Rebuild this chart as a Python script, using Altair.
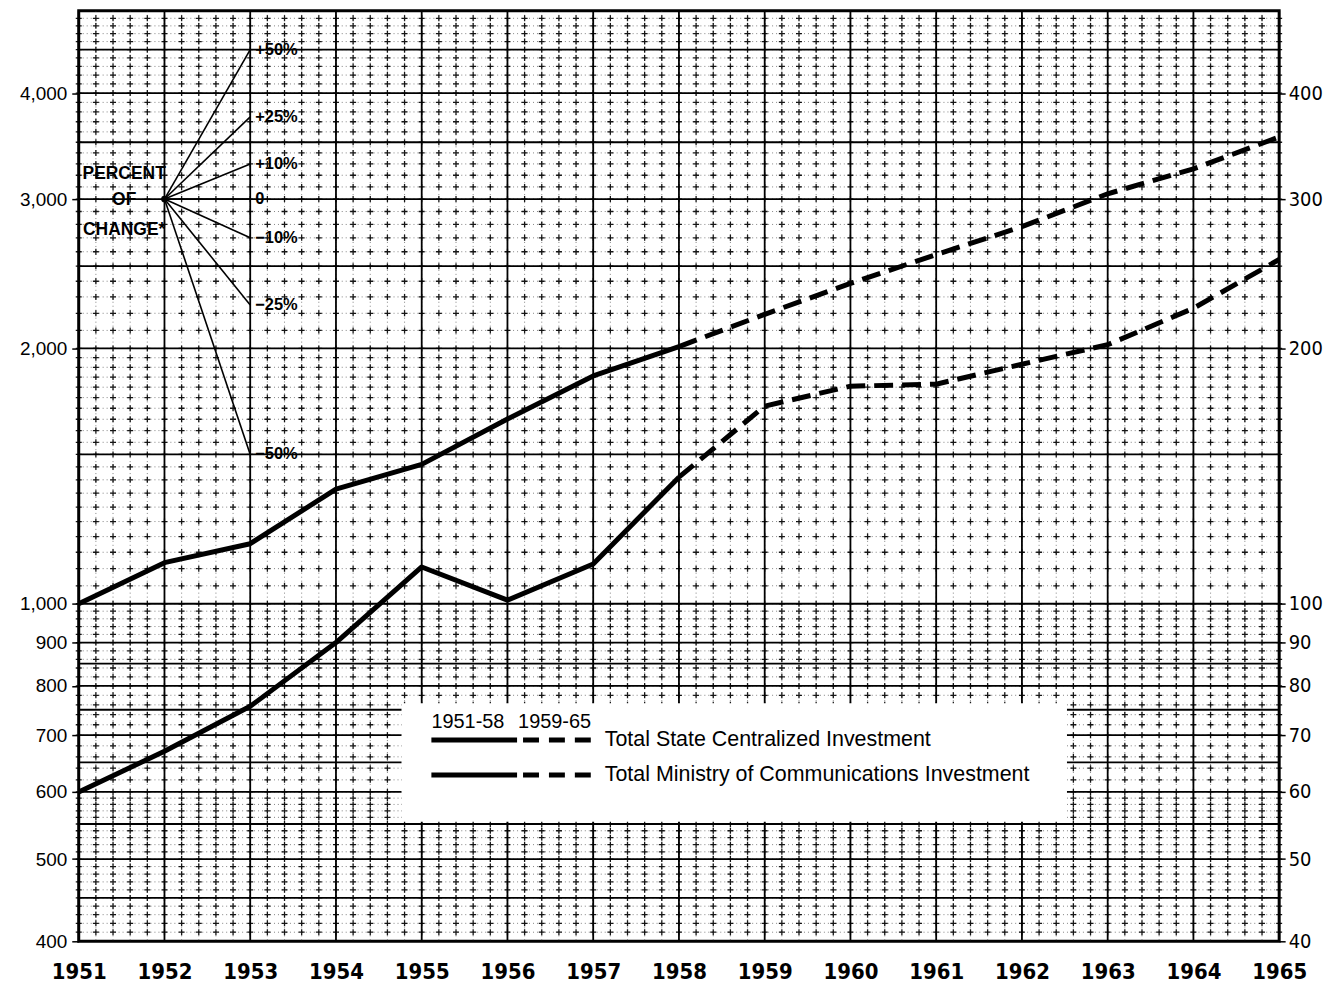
import itertools
import altair as alt
import pandas as pd

# ---------------- data ----------------
years = [1951, 1952, 1953, 1954, 1955, 1956, 1957, 1958,
         1959, 1960, 1961, 1962, 1963, 1964, 1965]
# left scale: Total State Centralized Investment
state_investment = [1000, 1118, 1177, 1365, 1460, 1651, 1856, 2010,
                    2194, 2386, 2580, 2783, 3043, 3256, 3551]
# right scale: Total Ministry of Communications Investment
ministry_investment = [60, 67, 75.7, 90, 110.5, 101, 111.4, 141,
                       171, 180.5, 181.5, 191.6, 202, 223, 254.6]
split_year = 1958  # solid 1951-58, dashed 1959-65

left_tick_values = [400, 500, 600, 700, 800, 900, 1000, 2000, 3000, 4000]
right_tick_values = [40, 50, 60, 70, 80, 90, 100, 200, 300, 400]

fan_labels = ["+50%", "+25%", "+10%", "0", "\u221210%", "\u221225%", "\u221250%"]
fan_changes = [0.50, 0.25, 0.10, 0.0, -0.10, -0.25, -0.50]
fan_origin_year = 1952
fan_origin_value = 3000
fan_end_year = 1953

percent_words = ["PERCENT", "OF", "CHANGE*"]
percent_word_values = [3212, 2990, 2761]
percent_word_year = 1951.53

legend_header = ["1951-58", "1959-65"]
legend_names = ["Total State Centralized Investment",
                "Total Ministry of Communications Investment"]

# graph-paper grid (semi-log paper)
grid_major_y = [450, 500, 550, 600, 650, 700, 750, 800, 850, 900, 1000,
                1500, 2000, 2500, 3000, 3500, 4000, 4500]
grid_minor_y = (list(range(410, 600, 10)) + list(range(600, 1000, 20))
                + list(range(1000, 2000, 50)) + list(range(2000, 5000, 100)))
grid_minor_x = [y + k / 5 for y in years[:-1] for k in (0, 1, 2, 3, 4)] + [years[-1]]

# ---------------- chart ----------------
W, H = 1205, 934
FONT = "Liberation Sans, Arial, Helvetica, sans-serif"
NARROW = "Liberation Sans Narrow, Arial Narrow, DejaVu Sans Condensed, sans-serif"

xs = alt.Scale(domain=[1951, 1965], nice=False, zero=False)
yls = alt.Scale(type="log", domain=[400, 5000], nice=False)
yrs = alt.Scale(type="log", domain=[40, 500], nice=False)

x_axis = alt.Axis(values=years, format="d", title=None, grid=False, domain=False,
                  ticks=False, labelFont=NARROW, labelFontSize=22,
                  labelFontWeight="bold", labelColor="black", labelPadding=20,
                  labelFlush=False, labelOverlap=False)
left_axis = alt.Axis(values=left_tick_values, format=",", title=None, grid=False,
                     orient="left", domain=False, ticks=True, tickSize=7,
                     tickWidth=1.5, tickColor="black", labelFont=FONT,
                     labelFontSize=19, labelColor="black", labelPadding=5,
                     labelOverlap=False, labelFlush=False)
right_axis = alt.Axis(values=right_tick_values, format="d", title=None, grid=False,
                      orient="right", domain=False, ticks=True, tickSize=6,
                      tickWidth=1.5, tickColor="black", labelFont=NARROW,
                      labelFontSize=20, labelColor="black", labelPadding=3,
                      labelOverlap=False, labelFlush=False)


def X(field):
    return alt.X(field, type="quantitative", scale=xs, axis=x_axis)


def YL(field):
    return alt.Y(field, type="quantitative", scale=yls, axis=left_axis)


def YR(field):
    return alt.Y(field, type="quantitative", scale=yrs, axis=right_axis)


df = pd.DataFrame({"year": years, "state": state_investment,
                   "ministry": ministry_investment})

minor_v = alt.Chart(pd.DataFrame({"x": grid_minor_x})).mark_rule(
    color="#333", strokeWidth=1, strokeDash=[1, 3], opacity=0.6
).encode(x=X("x"))

minor_h = alt.Chart(pd.DataFrame({"y": grid_minor_y})).mark_rule(
    color="#333", strokeWidth=1, strokeDash=[1, 3], opacity=0.6
).encode(y=YL("y"))

cross_df = pd.DataFrame(list(itertools.product(grid_minor_x, grid_minor_y)),
                        columns=["x", "y"])
crosses = alt.Chart(cross_df).mark_point(
    shape="M-1,0H1M0,-1V1", size=36, filled=False, color="black",
    strokeWidth=1.3, opacity=0.9
).encode(x=X("x"), y=YL("y"))

major_v = alt.Chart(pd.DataFrame({"x": years})).mark_rule(
    color="black", strokeWidth=1.8
).encode(x=X("x"))

major_h = alt.Chart(pd.DataFrame({"y": grid_major_y})).mark_rule(
    color="black", strokeWidth=1.8
).encode(y=YL("y"))

# percent-of-change fan
fan_rows = []
for lab, ch in zip(fan_labels, fan_changes):
    fan_rows.append({"label": lab, "year": fan_origin_year, "value": fan_origin_value, "end": 0})
    fan_rows.append({"label": lab, "year": fan_end_year,
                     "value": fan_origin_value * (1 + ch), "end": 1})
fan_df = pd.DataFrame(fan_rows)

fan_lines = alt.Chart(fan_df).mark_line(color="black", strokeWidth=1.6).encode(
    x=X("year"), y=YL("value"), detail="label:N")

fan_dot = alt.Chart(pd.DataFrame({"year": [fan_origin_year],
                                  "value": [fan_origin_value]})).mark_circle(
    color="black", size=45, opacity=1
).encode(x=X("year"), y=YL("value"))

fan_text = alt.Chart(fan_df).transform_filter(alt.datum.end == 1).mark_text(
    align="left", baseline="middle", dx=5, fontSize=16.5, fontWeight="bold",
    font=FONT, color="black"
).encode(x=X("year"), y=YL("value"), text="label:N")

pct_text = alt.Chart(pd.DataFrame({"t": percent_words, "v": percent_word_values,
                                   "x": [percent_word_year] * 3})).mark_text(
    align="center", baseline="middle", fontSize=17.5, fontWeight="bold",
    font=FONT, color="black"
).encode(x=X("x"), y=YL("v"), text="t:N")

# data lines (left scale)
state_solid = alt.Chart(df).transform_filter(alt.datum.year <= split_year).mark_line(
    color="black", strokeWidth=5, strokeJoin="round"
).encode(x=X("year"), y=YL("state"))
state_dash = alt.Chart(df).transform_filter(alt.datum.year >= split_year).mark_line(
    color="black", strokeWidth=5, strokeDash=[19, 9]
).encode(x=X("year"), y=YL("state"))

# custom legend box (pixel positions inside the plot area)
leg_box = alt.Chart(pd.DataFrame({"a": [0]})).mark_rect(color="white").encode(
    x=alt.value(324), x2=alt.value(992), y=alt.value(695), y2=alt.value(814))

leg_head1 = alt.Chart(pd.DataFrame({"t": [legend_header[0]]})).mark_text(
    align="left", baseline="middle", font=FONT, fontSize=20, color="black"
).encode(x=alt.value(354), y=alt.value(714), text="t:N")
leg_head2 = alt.Chart(pd.DataFrame({"t": [legend_header[1]]})).mark_text(
    align="left", baseline="middle", font=FONT, fontSize=20, color="black"
).encode(x=alt.value(441), y=alt.value(714), text="t:N")

leg_layers = [leg_box, leg_head1, leg_head2]
for i, (name, yy) in enumerate(zip(legend_names, [732, 767])):
    leg_layers.append(alt.Chart(pd.DataFrame({"a": [i]})).mark_rule(
        color="black", strokeWidth=5).encode(
        x=alt.value(354), x2=alt.value(440), y=alt.value(yy)))
    leg_layers.append(alt.Chart(pd.DataFrame({"a": [i]})).mark_rule(
        color="black", strokeWidth=5, strokeDash=[16, 10]).encode(
        x=alt.value(446), x2=alt.value(516), y=alt.value(yy)))
    leg_layers.append(alt.Chart(pd.DataFrame({"t": [name]})).mark_text(
        align="left", baseline="middle", font=FONT, fontSize=21.5, color="black"
    ).encode(x=alt.value(528), y=alt.value(yy), text="t:N"))

left_group = alt.layer(minor_v, minor_h, crosses, major_v, major_h, fan_lines,
                       fan_dot, fan_text, pct_text, *leg_layers,
                       state_solid, state_dash)

# ministry lines (right scale)
min_solid = alt.Chart(df).transform_filter(alt.datum.year <= split_year).mark_line(
    color="black", strokeWidth=5, strokeJoin="round"
).encode(x=X("year"), y=YR("ministry"))
min_dash = alt.Chart(df).transform_filter(alt.datum.year >= split_year).mark_line(
    color="black", strokeWidth=5, strokeDash=[19, 9]
).encode(x=X("year"), y=YR("ministry"))
right_group = alt.layer(min_solid, min_dash)

chart = alt.layer(left_group, right_group).resolve_scale(y="independent").properties(
    width=W, height=H,
    padding={"left": 11, "top": 0, "right": 0, "bottom": 0},
    background="white",
).configure_view(stroke="black", strokeWidth=3)

chart.save("out.html", embed_options={"renderer": "svg", "actions": False})
